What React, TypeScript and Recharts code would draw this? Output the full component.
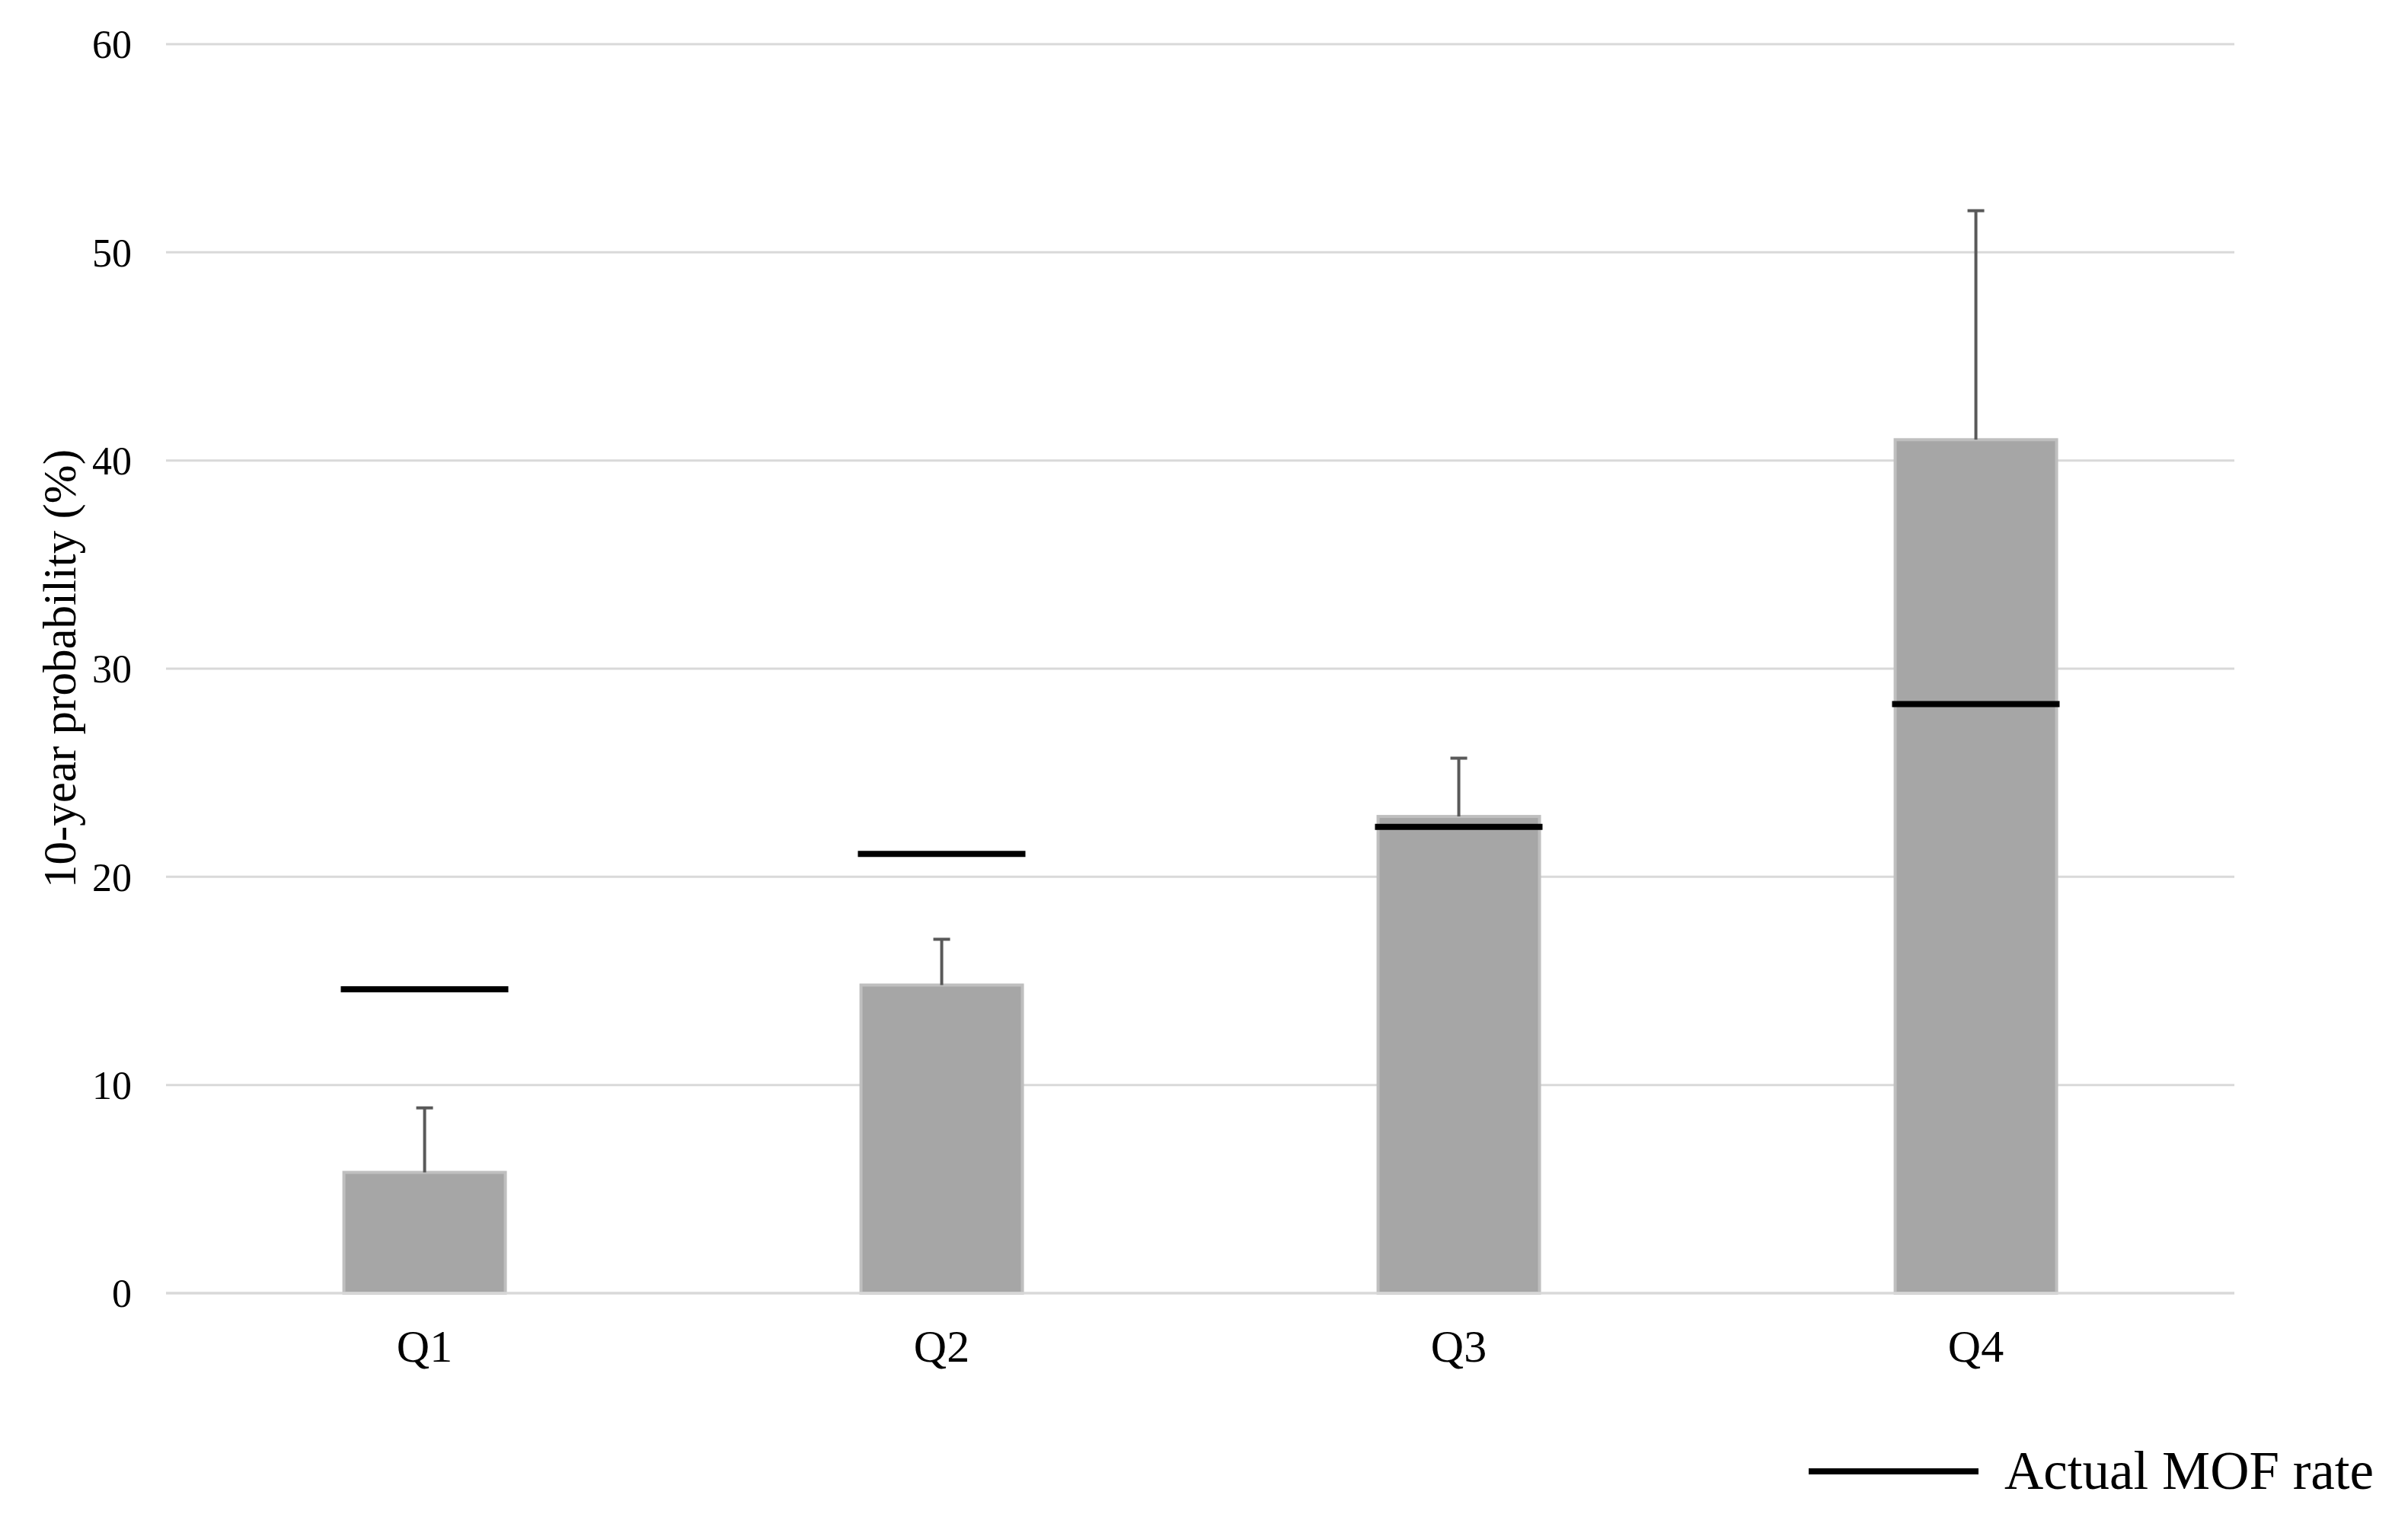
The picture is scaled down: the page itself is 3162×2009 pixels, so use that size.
import React from 'react'
import { ComposedChart, Bar, Scatter, XAxis, YAxis, CartesianGrid, Label } from 'recharts'

const quartiles = ['Q1', 'Q2', 'Q3', 'Q4']
const predicted = [5.8, 14.8, 22.9, 41.0]
const upperCI = [8.9, 17.0, 25.7, 52.0]
const actualMOF = [14.6, 21.1, 22.4, 28.3]
const yTicks = [0, 10, 20, 30, 40, 50, 60]

const data = quartiles.map((q, i) => ({
  q,
  pred: predicted[i],
  upper: upperCI[i],
  actual: actualMOF[i],
}))

const FONT = '"Liberation Serif", "Times New Roman", serif'

// bar with an upper-only error whisker (no lower cap, like the Excel original)
function BarWithError(props: any) {
  const { x, y, width, height, payload } = props
  const perUnit = height / payload.pred
  const yUp = y - (payload.upper - payload.pred) * perUnit
  const cx = x + width / 2
  return (
    <g>
      <rect x={x} y={y} width={width} height={height} fill="#a6a6a6" stroke="#bfbfbf" strokeWidth={4} />
      <line x1={cx} x2={cx} y1={y} y2={yUp} stroke="#595959" strokeWidth={4} />
      <line x1={cx - 11} x2={cx + 11} y1={yUp} y2={yUp} stroke="#595959" strokeWidth={4} />
    </g>
  )
}

function RateMark(props: any) {
  const { cx, cy } = props
  return <line x1={cx - 110} x2={cx + 110} y1={cy} y2={cy} stroke="#000" strokeWidth={8} />
}

export default function App() {
  return (
    <div style={{ position: 'absolute', left: 0, top: 0, width: 3162, height: 2009, background: '#fff' }}>
      <ComposedChart
        width={3162}
        height={2009}
        data={data}
        margin={{ top: 58, right: 228, bottom: 191, left: 0 }}
        barCategoryGap="34.4%"
      >
        <CartesianGrid vertical={false} stroke="#d9d9d9" strokeWidth={3} />
        <XAxis
          dataKey="q"
          height={120}
          axisLine={{ stroke: '#d9d9d9', strokeWidth: 3 }}
          tickLine={false}
          tickSize={0}
          tickMargin={47}
          tick={{ fill: '#000', fontSize: 60, fontFamily: FONT }}
        />
        <YAxis
          width={218}
          domain={[0, 60]}
          ticks={yTicks}
          axisLine={false}
          tickLine={false}
          tickSize={0}
          tickMargin={45}
          tick={{ fill: '#000', fontSize: 52, fontFamily: FONT }}
        >
          <Label
            value="10-year probability (%)"
            angle={-90}
            position="center"
            dx={-32}
            style={{ fill: '#000', fontSize: 61, fontFamily: FONT }}
          />
        </YAxis>
        <Bar dataKey="pred" shape={<BarWithError />} isAnimationActive={false} />
        <Scatter dataKey="actual" shape={<RateMark />} isAnimationActive={false} />
      </ComposedChart>
      <div
        style={{
          position: 'absolute',
          left: 2375,
          top: 1891,
          display: 'flex',
          alignItems: 'center',
          fontFamily: FONT,
          fontSize: 71,
          color: '#000',
          whiteSpace: 'nowrap',
        }}
      >
        <div style={{ width: 223, height: 8, background: '#000', marginRight: 34 }} />
        <span>Actual MOF rate</span>
      </div>
    </div>
  )
}
